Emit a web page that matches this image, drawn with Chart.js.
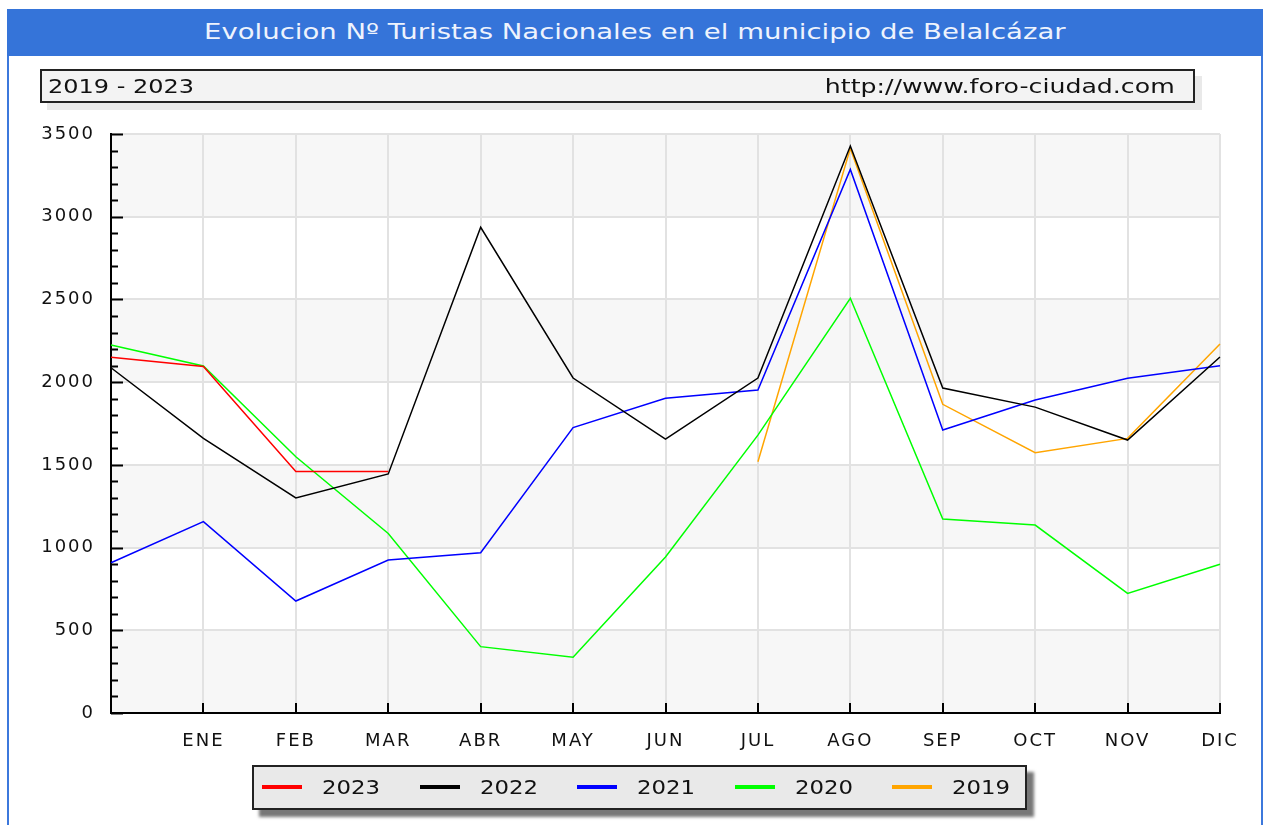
<!DOCTYPE html>
<html>
<head>
<meta charset="utf-8">
<script src="https://cdn.jsdelivr.net/npm/chart.js@4/dist/chart.umd.min.js"></script>
<style>
  body { margin: 0; background: #fff; width: 1265px; height: 825px; overflow: hidden; position: relative; font-family: "DejaVu Sans", sans-serif; }
  #frame { position: absolute; left: 7px; top: 9px; width: 1252px; height: 840px; border: 2px solid #3c78dc; border-bottom: none; }
  #titleBar { position: absolute; left: 7px; top: 9px; width: 1256px; height: 47px; background: #3574d9; color: #eef3fd; font-size: 21px; line-height: 47px; text-align: center; }
  #titleBar span { display: inline-block; transform: scaleX(1.31); }
  #subBox { position: absolute; left: 40px; top: 69px; width: 1151px; height: 30px; background: #f3f3f3; border: 2px solid #222; box-shadow: 7px 7px 0 #e9e9e9; font-size: 20px; line-height: 30px; color: #111; }
  #subBox .l { position: absolute; left: 6px; transform: scaleX(1.2); transform-origin: left center; }
  #subBox .r { position: absolute; right: 18px; transform: scaleX(1.26); transform-origin: right center; }
  #chartWrap { position: absolute; left: 0; top: 0; width: 1265px; height: 825px; }
  #legendBox { position: absolute; left: 252px; top: 765px; width: 771px; height: 41px; background: #e9e9e9; border: 2px solid #222; box-shadow: 7px 7px 3px #777; }
  #legendBox .item { position: absolute; top: 0; height: 41px; line-height: 41px; font-size: 19px; color: #111; }
  #legendBox .swatch { position: absolute; top: 18px; width: 40px; height: 4px; }
  #legendBox .txt { position: absolute; left: 60px; transform: scaleX(1.2); transform-origin: left center; }
</style>
</head>
<body>
<div id="chartWrap"><canvas id="chart" width="1265" height="825"></canvas></div>
<div id="frame"></div>
<div id="titleBar"><span>Evolucion Nº Turistas Nacionales en el municipio de Belalcázar</span></div>
<div id="subBox"><span class="l">2019 - 2023</span><span class="r">http://www.foro-ciudad.com</span></div>
<div id="legendBox"></div>
<script>
const months = ["", "ENE", "FEB", "MAR", "ABR", "MAY", "JUN", "JUL", "AGO", "SEP", "OCT", "NOV", "DIC"];

const years = ["2023", "2022", "2021", "2020", "2019"];
const yearColors = ["#ff0000", "#000000", "#0000ff", "#00ff00", "#ffa500"];

const turistas2023 = [2150, 2095, 1460, 1460, null, null, null, null, null, null, null, null, null];
const turistas2022 = [2087, 1660, 1300, 1445, 2936, 2025, 1656, 2025, 3427, 1964, 1849, 1650, 2152];
const turistas2021 = [908, 1157, 677, 925, 969, 1725, 1902, 1952, 3286, 1711, 1892, 2023, 2099];
const turistas2020 = [2224, 2098, 1549, 1085, 401, 337, 943, 1680, 2507, 1173, 1136, 723, 899];
const turistas2019 = [null, null, null, null, null, null, null, 1519, 3413, 1866, 1573, 1660, 2230];

const yMax = 3500;
const yMajor = 500;
const yMinor = 100;

const series = [turistas2023, turistas2022, turistas2021, turistas2020, turistas2019];

// franjas grises alternas detras de la rejilla
const bandsPlugin = {
  id: "bands",
  beforeDraw(chart) {
    const { ctx, chartArea, scales } = chart;
    ctx.save();
    ctx.fillStyle = "#f7f7f7";
    for (let v = 0; v < yMax; v += yMajor * 2) {
      const yTop = scales.y.getPixelForValue(v + yMajor);
      const yBot = scales.y.getPixelForValue(v);
      ctx.fillRect(chartArea.left, yTop, chartArea.right - chartArea.left, yBot - yTop);
    }
    ctx.restore();
    ctx.letterSpacing = "2px";
  }
};

// marcas de los ejes hacia dentro
const innerTicksPlugin = {
  id: "innerTicks",
  afterDraw(chart) {
    const { ctx, chartArea, scales } = chart;
    ctx.save();
    ctx.strokeStyle = "#000";
    ctx.lineWidth = 2;
    ctx.beginPath();
    scales.y.ticks.forEach(t => {
      const y = Math.round(scales.y.getPixelForValue(t.value)) + 0.5;
      const len = t.value % yMajor === 0 ? 12 : 7;
      ctx.moveTo(chartArea.left, y);
      ctx.lineTo(chartArea.left + len, y);
    });
    scales.x.ticks.forEach((t, i) => {
      const x = Math.round(scales.x.getPixelForTick(i));
      ctx.moveTo(x, chartArea.bottom);
      ctx.lineTo(x, chartArea.bottom - 10);
    });
    ctx.stroke();
    ctx.restore();
  }
};

const datasets = years.map((year, i) => ({
  label: year,
  data: series[i],
  borderColor: yearColors[i],
  backgroundColor: yearColors[i],
  borderWidth: 1.5,
  pointRadius: 0,
  tension: 0,
  spanGaps: false
}));

const chart = new Chart(document.getElementById("chart"), {
  type: "line",
  data: { labels: months, datasets },
  options: {
    responsive: false,
    animation: false,
    layout: { padding: { top: 134, left: 0, right: 45, bottom: 62 } },
    plugins: {
      legend: { display: false },
      title: { display: false },
      tooltip: { enabled: false }
    },
    scales: {
      x: {
        offset: false,
        grid: { color: "#e2e2e2", lineWidth: 2, drawTicks: false },
        border: { color: "#000", width: 2 },
        ticks: {
          color: "#111",
          padding: 18,
          maxRotation: 0,
          autoSkip: false,
          font: { family: "DejaVu Sans", size: 18 }
        },
        afterFit(scale) {
          scale.height = 50;
          scale.paddingLeft = 0;
          scale.paddingRight = 0;
        }
      },
      y: {
        min: 0,
        max: yMax,
        grid: {
          color: ctx => (ctx.tick && ctx.tick.value % yMajor === 0 ? "#e2e2e2" : "rgba(0,0,0,0)"),
          lineWidth: 2,
          drawTicks: false
        },
        border: { color: "#000", width: 2 },
        ticks: {
          stepSize: yMinor,
          maxTicksLimit: 100,
          autoSkip: false,
          color: "#111",
          padding: 16,
          font: { family: "DejaVu Sans", size: 18 },
          callback: v => (v % yMajor === 0 ? String(v) : "")
        },
        afterFit(scale) {
          scale.width = 111;
          scale.paddingTop = 0;
          scale.paddingBottom = 0;
        }
      }
    }
  },
  plugins: [bandsPlugin, innerTicksPlugin]
});

// leyenda en HTML a partir de los datasets
const legendBox = document.getElementById("legendBox");
chart.data.datasets.forEach((ds, i) => {
  const item = document.createElement("div");
  item.className = "item";
  item.style.left = (8 + i * 157.5) + "px";
  item.innerHTML = `<span class="swatch" style="background:${ds.borderColor}"></span><span class="txt">${ds.label}</span>`;
  legendBox.appendChild(item);
});
</script>
</body>
</html>
